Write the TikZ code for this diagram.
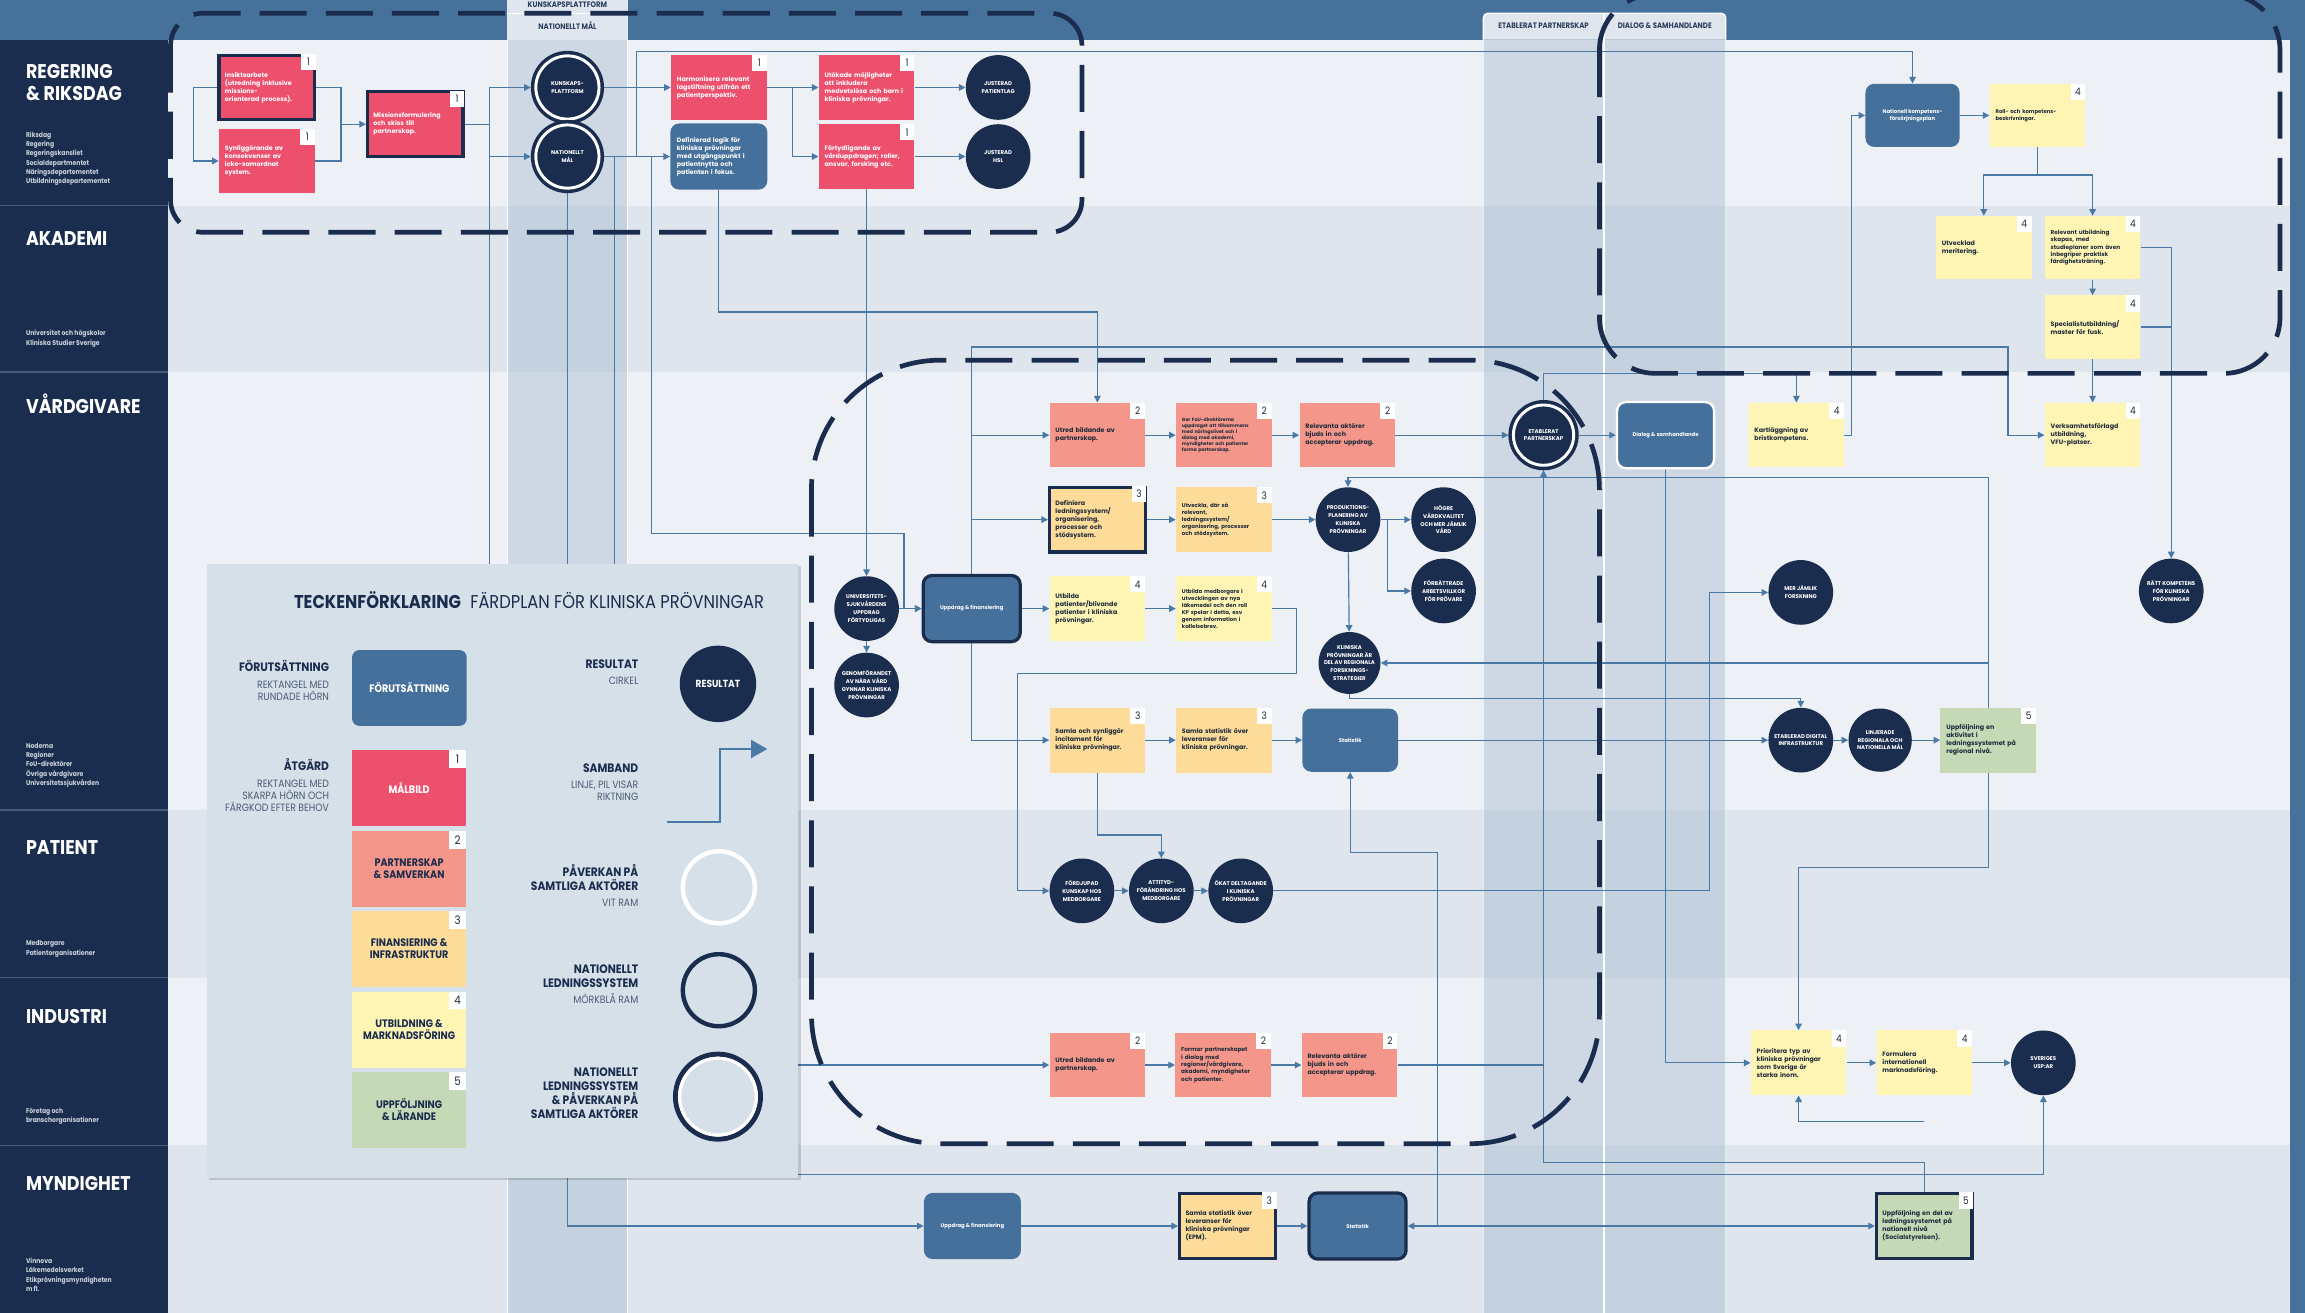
\documentclass[tikz,border=0pt]{standalone}
\usepackage{fontspec}
\setmainfont{Poppins}[FakeStretch=0.88]
\newfontfamily\ballfont{Poppins}
\usetikzlibrary{arrows.meta}

\definecolor{cHead}{HTML}{46719B}
\definecolor{cNavy}{HTML}{1B2D4E}
\definecolor{cMid}{HTML}{45709B}
\definecolor{cRed}{HTML}{EC506D}
\definecolor{cSalmon}{HTML}{F4978A}
\definecolor{cOrange}{HTML}{FDDB99}
\definecolor{cYellow}{HTML}{FEF5B5}
\definecolor{cGreen}{HTML}{C5D9B7}
\definecolor{cLink}{HTML}{4B79A5}
\definecolor{cLaneA}{HTML}{EDF1F6}
\definecolor{cLaneB}{HTML}{DEE5ED}
\definecolor{cCol}{HTML}{9FB4C9}
\definecolor{cTab}{HTML}{DFE6EE}
\definecolor{cLegend}{HTML}{D6E0E9}
\definecolor{cText}{HTML}{1F2B3B}
\definecolor{cSub}{HTML}{C8D1DC}
\definecolor{cSep}{HTML}{465A7B}
\definecolor{cTabText}{HTML}{2C3F5E}
\definecolor{cLegSub}{HTML}{4B5B73}

\pgfdeclarelayer{bg}
\pgfdeclarelayer{lines}
\pgfdeclarelayer{top}
\pgfsetlayers{bg,lines,main,top}

\begin{document}
\begin{tikzpicture}[x=1pt,y=-1pt,
    link/.style={draw=cLink,line width=.8pt},
    arr/.style={link,-{Triangle[length=4.5pt,width=4.5pt]}},
    act/.style={rectangle,minimum width=65pt,minimum height=44pt,text width=57pt,
      inner xsep=4pt,inner ysep=0pt,align=left,text=cText,
      font=\ballfont\bfseries\fontsize{4.3}{5.4}\selectfont},
    m1/.style={act,fill=cRed,text=white},
    m2/.style={act,fill=cSalmon},
    m3/.style={act,fill=cOrange},
    m4/.style={act,fill=cYellow},
    m5/.style={act,fill=cGreen},
    navyframe/.style={draw=cNavy,line width=2.2pt},
    badge/.style={fill=white,text=cText,minimum width=10pt,minimum height=11pt,
      inner sep=0pt,font=\fontsize{7}{7}\selectfont},
    num/.style={label={[badge,anchor=north east]north east:#1}},
    pre/.style={rectangle,rounded corners=6pt,fill=cMid,text=white,minimum width=66pt,
      minimum height=45pt,inner sep=2pt,align=center,font=\ballfont\bfseries\fontsize{3.6}{4.6}\selectfont},
    res/.style={circle,fill=cNavy,text=white,minimum size=44pt,inner sep=0pt,
      align=center,font=\ballfont\bfseries\fontsize{3.7}{5.3}\selectfont},
    ring/.style={res,draw=cNavy,double=white,line width=2.4pt,double distance=2pt,
      minimum size=43pt,outer sep=3.4pt},
    dashbox/.style={draw=cNavy,line width=3.2pt,dash pattern=on 32pt off 13pt},
    lanetitle/.style={anchor=base west,inner sep=0pt,text=white,
      font=\bfseries\fontsize{13.5}{15}\selectfont},
    lanesub/.style={anchor=base west,inner sep=0pt,text=cSub,align=left,
      font=\bfseries\fontsize{4.7}{6.3}\selectfont},
    tablabel/.style={inner sep=0pt,text=cTabText,font=\bfseries\fontsize{5.4}{5.4}\selectfont},
    leghead/.style={anchor=base east,inner sep=0pt,text=cNavy,align=right,
      font=\bfseries\fontsize{8.3}{9.6}\selectfont},
    legsub/.style={anchor=base east,inner sep=0pt,text=cLegSub,align=right,
      font=\fontsize{7.2}{8.1}\selectfont},
    legbox/.style={rectangle,minimum width=78pt,minimum height=51.6pt,inner sep=0pt,
      align=center,text=cNavy,font=\bfseries\fontsize{7.4}{8.1}\selectfont},
    legbadge/.style={fill=white,text=cText,minimum size=12pt,inner sep=0pt,
      font=\fontsize{8}{8}\selectfont},
    legnum/.style={label={[legbadge,anchor=north east]north east:#1}}
]
\useasboundingbox (0,0) rectangle (1568,893);

% background: header, lanes, columns
\begin{pgfonlayer}{bg}
  \fill[cHead] (0,0) rectangle (1568,27);
  \fill[cNavy] (0,27) rectangle (114,893);
  \fill[cLaneA] (114,27) rectangle (1558,140);
  \fill[cLaneB] (114,140) rectangle (1558,253);
  \fill[cLaneA] (114,253) rectangle (1558,551);
  \fill[cLaneB] (114,551) rectangle (1558,665);
  \fill[cLaneA] (114,665) rectangle (1558,779);
  \fill[cLaneB] (114,779) rectangle (1558,893);
  \fill[cHead] (1558,0) rectangle (1568,893);
  \foreach \y in {140,253,551,665,779}
    \draw[cSep,line width=.8pt] (0,\y) -- (114,\y);
  \fill[cCol,opacity=.4] (345,27) rectangle (427,893);
  \fill[cCol,opacity=.4] (1009,26) rectangle (1174,893);
  \draw[white,line width=.8pt] (345,0) -- (345,893) (427,0) -- (427,893);
  \draw[white,line width=1pt] (1091,9) -- (1091,893);
  \draw[white,opacity=.6,line width=.6pt] (1009,26) -- (1009,893) (1174,26) -- (1174,893);
  \fill[cTab] (345,0) rectangle (427,27);
  \draw[white,line width=.8pt] (345,9) -- (427,9);
  \path[fill=cTab,draw=white,line width=.8pt,rounded corners=3pt]
    (1009,27) -- (1009,9) -- (1174,9) -- (1174,27);
  \draw[white,line width=1pt] (1091,9) -- (1091,27);
\end{pgfonlayer}

\node[tablabel] (tabKun) at (386,3.5) {KUNSKAPSPLATTFORM};
\node[tablabel] (tabNat) at (386,17.5) {NATIONELLT MÅL};
\node[tablabel] (tabEtab) at (1050,17.5) {ETABLERAT PARTNERSKAP};
\node[tablabel] (tabDia) at (1132.5,17.5) {DIALOG \& SAMHANDLANDE};

% lane labels (base = last line)
\node[lanetitle] (tReg1) at (17.5,53.7) {REGERING};
\node[lanetitle] (tReg2) at (17.5,68.5) {\& RIKSDAG};
\node[lanesub] (sReg) at (17.5,125) {Riksdag\\Regering\\Regeringskansliet\\Socialdepartmentet\\Näringsdepartementet\\Utbildningsdepartementet};
\node[lanetitle] (tAka) at (17.5,167) {AKADEMI};
\node[lanesub] (sAka) at (17.5,234.8) {Universitet och högskolor\\Kliniska Studier Sverige};
\node[lanetitle] (tVard) at (17.5,281) {VÅRDGIVARE};
\node[lanesub] (sVard) at (17.5,534.2) {Noderna\\Regioner\\FoU-direktörer\\Övriga vårdgivare\\Universitetssjukvården};
\node[lanetitle] (tPat) at (17.5,581) {PATIENT};
\node[lanesub] (sPat) at (17.5,649.8) {Medborgare\\Patientorganisationer};
\node[lanetitle] (tInd) at (17.5,696) {INDUSTRI};
\node[lanesub] (sInd) at (17.5,763.8) {Företag och\\branschorganisationer};
\node[lanetitle] (tMyn) at (17.5,810) {MYNDIGHET};
\node[lanesub] (sMyn) at (17.5,878.4) {Vinnova\\Läkemedelsverket\\Etikprövningsmyndigheten\\m fl.};

% regering & riksdag
\node[m1,navyframe,num=1] (insikt) at (181.5,59.5) {Insiktsarbete\\(utredning inklusive\\missions-\\orienterad process).};
\node[m1,num=1] (synlig) at (181.5,109.5) {Synliggörande av\\konsekvenser av\\icke-samordnat\\system.};
\node[m1,navyframe,num=1] (mission) at (282.5,84.5) {Missionsformulering\\och skiss till\\partnerskap.};
\node[ring] (kunskap) at (386,59.5) {KUNSKAPS-\\PLATTFORM};
\node[ring] (natmal) at (386,106.5) {NATIONELLT\\MÅL};
\node[m1,num=1] (harmon) at (489,59.5) {Harmonisera relevant\\lagstiftning utifrån ett\\patientperspektiv.};
\node[pre,align=left,text width=57pt,inner xsep=4pt,font=\ballfont\bfseries\fontsize{4.3}{5.4}\selectfont] (logik) at (489,106.5) {Definierad logik för\\kliniska prövningar\\med utgångspunkt i\\patientnytta och\\patienten i fokus.};
\node[m1,num=1] (utokade) at (589.5,59.5) {Utökade möjligheter\\att inkludera\\medvetslösa och barn i\\kliniska prövningar.};
\node[m1,num=1] (fortyd) at (589.5,106.5) {Förtydligande av\\vårduppdragen; roller,\\ansvar, forsking etc.};
\node[res] (patlag) at (679,59.5) {JUSTERAD\\PATIENTLAG};
\node[res] (hsl) at (679,106.5) {JUSTERAD\\HSL};

% kompetens (top right)
\node[pre,minimum width=64pt,minimum height=43pt] (kompplan) at (1301,78.5) {Nationell kompetens-\\försörjningsplan};
\node[m4,num=4,font=\ballfont\bfseries\fontsize{3.6}{4.6}\selectfont,minimum height=43pt] (rollbesk) at (1386,78.5) {Roll- och kompetens-\\beskrivningar.};
\node[m4,num=4,minimum height=43pt] (merit) at (1349.5,168.5) {Utvecklad\\meritering.};
\node[m4,num=4,minimum height=43pt,font=\ballfont\bfseries\fontsize{3.9}{5}\selectfont] (relutb) at (1423.5,168.5) {Relevant utbildning\\skapas, med\\studieplaner som även\\inbegriper praktisk\\färdighetsträning.};
\node[m4,num=4,minimum height=43pt] (specutb) at (1423.5,222.5) {Specialistutbildning/\\master för fusk.};

% vårdgivare
\node[m2,num=2] (utredV) at (746.5,296) {Utred bildande av\\partnerskap.};
\node[m2,num=2,font=\ballfont\bfseries\fontsize{3.2}{4}\selectfont] (gerfou) at (832.5,296) {Ger FoU-direktörerna\\uppdraget att tillsammans\\med näringslivet och i\\dialog med akademi,\\myndigheter och patienter\\forma partnerskap.};
\node[m2,num=2] (relevV) at (916.5,296) {Relevanta aktörer\\bjuds in och\\accepterar uppdrag.};
\node[ring,minimum size=41pt] (etabl) at (1050,296) {ETABLERAT\\PARTNERSKAP};
\node[pre,draw=white,line width=1.6pt] (dialog) at (1133,296) {Dialog \& samhandlande};
\node[m4,num=4] (kartl) at (1222,296) {Kartläggning av\\bristkompetens.};
\node[m4,num=4] (vfu) at (1423.5,296) {Verksamhetsförlagd\\utbildning,\\VFU-platser.};
\node[m3,navyframe,num=3] (definiera) at (746.5,353.5) {Definiera\\ledningssystem/\\organisering,\\processer och\\stödsystem.};
\node[m3,num=3,font=\ballfont\bfseries\fontsize{3.7}{4.7}\selectfont] (utveckla) at (832.5,353.5) {Utveckla, där så\\relevant,\\ledningssystem/\\organisering, processer\\och stödsystem.};
\node[res] (prod) at (917,353.5) {PRODUKTIONS-\\PLANERING AV\\KLINISKA\\PRÖVNINGAR};
\node[res] (hogre) at (982,353.5) {HÖGRE\\VÅRDKVALITET\\OCH MER JÄMLIK\\VÅRD};
\node[res] (forbat) at (982,402) {FÖRBÄTTRADE\\ARBETSVILLKOR\\FÖR PRÖVARE};
\node[res] (univ) at (589.5,414) {UNIVERSITETS-\\SJUKVÅRDENS\\UPPDRAG\\FÖRTYDLIGAS};
\node[res] (nara) at (589.5,466) {GENOMFÖRANDET\\AV NÄRA VÅRD\\GYNNAR KLINISKA\\PRÖVNINGAR};
\node[pre,navyframe] (uppdrV) at (661,414) {Uppdrag \& finansiering};
\node[m4,num=4] (utbpat) at (746.5,414) {Utbilda\\patienter/blivande\\patienter i kliniska\\prövningar.};
\node[m4,num=4,font=\ballfont\bfseries\fontsize{3.7}{4.7}\selectfont] (utbmed) at (832.5,414) {Utbilda medborgare i\\utvecklingen av nya\\läkemedel och den roll\\KP spelar i detta, exv\\genom information i\\kallelsebrev.};
\node[res,minimum size=42pt] (klin) at (918,451) {KLINISKA\\PRÖVNINGAR ÄR\\DEL AV REGIONALA\\FORSKNINGS-\\STRATEGIER};
\node[res] (jamlik) at (1225,403) {MER JÄMLIK\\FORSKNING};
\node[res] (ratt) at (1477,402) {RÄTT KOMPETENS\\FÖR KLINISKA\\PRÖVNINGAR};
\node[m3,num=3] (samlainc) at (746.5,503.5) {Samla och synliggör\\incitament för\\kliniska prövningar.};
\node[m3,num=3] (samlastat) at (832.5,503.5) {Samla statistik över\\leveranser för\\kliniska prövningar.};
\node[pre,minimum width=65pt,minimum height=43pt] (statV) at (918.5,503.5) {Statistik};
\node[res] (digital) at (1225,503.5) {ETABLERAD DIGITAL\\INFRASTRUKTUR};
\node[res,minimum size=43pt] (linj) at (1279,503.5) {LINJERADE\\REGIONALA OCH\\NATIONELLA MÅL};
\node[m5,num=5] (uppfreg) at (1352.5,503.5) {Uppföljning en\\aktivitet i\\ledningssystemet på\\regional nivå.};

% patient
\node[res] (fordj) at (736,606) {FÖRDJUPAD\\KUNSKAP HOS\\MEDBORGARE};
\node[res] (attit) at (790,606) {ATTITYD-\\FÖRÄNDRING HOS\\MEDBORGARE};
\node[res] (okat) at (844,606) {ÖKAT DELTAGANDE\\I KLINISKA\\PRÖVNINGAR};

% industri
\node[m2,num=2] (utredI) at (746.5,724.5) {Utred bildande av\\partnerskap.};
\node[m2,num=2,font=\ballfont\bfseries\fontsize{3.9}{5}\selectfont] (formar) at (832,724.5) {Formar partnerskapet\\i dialog med\\regioner/vårdgivare,\\akademi, myndigheter\\och patienter.};
\node[m2,num=2] (relevI) at (918,724.5) {Relevanta aktörer\\bjuds in och\\accepterar uppdrag.};
\node[m4,num=4] (prior) at (1223.5,723) {Prioritera typ av\\kliniska prövningar\\som Sverige är\\starka inom.};
\node[m4,num=4] (formul) at (1309,723) {Formulera\\internationell\\marknadsföring.};
\node[res] (usp) at (1390,723) {SVERIGES\\USP:AR};

% myndighet
\node[pre] (uppdrM) at (661.5,834) {Uppdrag \& finansiering};
\node[m3,navyframe,num=3] (samlaepm) at (835,834) {Samla statistik över\\leveranser för\\kliniska prövningar\\(EPM).};
\node[pre,navyframe] (statM) at (923.5,834) {Statistik};
\node[m5,navyframe,num=5] (uppfnat) at (1309,834) {Uppföljning en del av\\ledningssystemet på\\nationell nivå\\(Socialstyrelsen).};

% junctions
\coordinate (j1) at (232,84.5);
\coordinate (j2) at (333,84.5);
\coordinate (w1) at (333,799);
\coordinate (n1) at (418,106.5);
\coordinate (n2) at (433,106.5);
\coordinate (n3) at (443,106.5);
\coordinate (k1) at (433,35);
\coordinate (t1) at (615,363);
\coordinate (j3) at (539,59.5);
\coordinate (j4) at (1386,119);
\coordinate (j5) at (944,353.5);
\coordinate (u0) at (661,236);
\coordinate (u1) at (661,296);
\coordinate (u2) at (661,353.5);
\coordinate (u3) at (1366,296);
\coordinate (v1) at (882,458);
\coordinate (v2) at (692,606);
\coordinate (s1) at (746.5,568);
\coordinate (o1) at (1163,606);
\coordinate (r0) at (1352.5,325);
\coordinate (r1) at (1352.5,451);
\coordinate (r2) at (1352.5,590);
\coordinate (e1) at (1050,254);
\coordinate (g1) at (1309,791);
\coordinate (g2) at (1309,763);
\coordinate (j6) at (978,834);
\coordinate (j7) at (978,580);

\begin{pgfonlayer}{lines}
  % regering
  \draw[arr] (insikt.west) -- ++(-16,0) |- (synlig.west);
  \draw[link] (insikt.east) -| (j1);
  \draw[link] (synlig.east) -| (j1);
  \draw[arr] (j1) -- (mission.west);
  \draw[link] (mission.east) -- (j2);
  \draw[arr] (j2) |- (kunskap.west);
  \draw[arr] (j2) |- (natmal.west);
  \draw[arr] (j2) -- (w1) -| (usp.south);
  \draw[arr] (kunskap) -- (harmon);
  \draw[arr] (natmal) -- (logik);
  \draw[arr] (n1) |- (utredI.west);
  \draw[arr] (n2) -- (k1) -| (kompplan.north);
  \draw[arr] (n3) |- (t1) |- (uppdrV.west);
  \draw[arr] (natmal.south) |- (uppdrM.west);
  \draw[arr] (harmon) -- (utokade);
  \draw[arr] (j3) |- (fortyd.west);
  \draw[arr] (utokade) -- (patlag);
  \draw[arr] (fortyd) -- (hsl);
  \draw[arr] (fortyd) -- (univ);
  \draw[arr] (logik.south) -- ++(0,83) -| (utredV.north);
  % kompetens
  \draw[arr] (kompplan) -- (rollbesk);
  \draw[link] (rollbesk.south) -- (j4);
  \draw[arr] (j4) -| (merit.north);
  \draw[arr] (j4) -| (relutb.north);
  \draw[arr] (relutb) -- (specutb);
  \draw[arr] (specutb) -- (vfu);
  \draw[arr] (relutb.east) -| (ratt.north);
  \draw[link] (specutb.east) -- (specutb.east -| ratt.north);
  \draw[arr] (kartl.east) -- ++(5,0) |- (kompplan.west);
  % vårdgivare
  \draw[arr] (uppdrV.north) -- (u0) -| (u3) -- (vfu.west);
  \draw[arr] (u1) -- (utredV.west);
  \draw[arr] (u2) -- (definiera.west);
  \draw[arr] (uppdrV.south) |- (samlainc.west);
  \draw[arr] (uppdrV) -- (utbpat);
  \draw[arr] (univ) -- (uppdrV);
  \draw[arr] (univ) -- (nara);
  \draw[arr] (utredV) -- (gerfou);
  \draw[arr] (gerfou) -- (relevV);
  \draw[arr] (relevV) -- (etabl);
  \draw[arr] (etabl) -- (dialog);
  \draw[arr] (definiera) -- (utveckla);
  \draw[arr] (utveckla) -- (prod);
  \draw[arr] (prod) -- (hogre);
  \draw[arr] (j5) |- (forbat.west);
  \draw[arr] (prod) -- (klin);
  \draw[arr] (utbpat) -- (utbmed);
  \draw[arr] (utbmed.east) -| (v1) -| (v2) -- (fordj.west);
  \draw[arr] (samlainc) -- (samlastat);
  \draw[arr] (samlastat) -- (statV);
  \draw[arr] (samlainc.south) -- (s1) -| (attit.north);
  \draw[arr] (statV) -- (digital);
  \draw[arr] (digital) -- (linj);
  \draw[arr] (linj) -- (uppfreg);
  \draw[arr] (uppfreg.north) -- (r0) -| (prod.north);
  \draw[arr] (r1) -- (klin.east);
  \draw[arr] (klin.south) -- ++(0,3) -| (digital.north);
  \draw[arr] (uppfreg.south) -- (r2) -| (prior.north);
  \draw[arr] (etabl.north) -- (e1) -| (kartl.north);
  \draw[arr] (dialog.south) |- (prior.west);
  % patient
  \draw[arr] (fordj) -- (attit);
  \draw[arr] (attit) -- (okat);
  \draw[arr] (okat.east) -- (o1) |- (jamlik.west);
  % industri
  \draw[arr] (utredI) -- (formar);
  \draw[arr] (formar) -- (relevI);
  \draw[arr] (relevI.east) -| (etabl.south);
  \draw[arr] (prior) -- (formul);
  \draw[arr] (formul) -- (usp);
  \draw[link] (uppfnat.north) -- (g1) -| (etabl.south);
  \draw[arr] (g2) -| (prior.south);
  % myndighet
  \draw[arr] (uppdrM) -- (samlaepm);
  \draw[arr] (samlaepm) -- (statM);
  \draw[arr] (j6) -- (statM.east);
  \draw[arr] (j6) -- (uppfnat.west);
  \draw[arr] (j6) -- (j7) -| (statV.south);
  % dashed groups
  \draw[dashbox,rounded corners=22pt] (116,9) rectangle (736,158);
  \draw[dashbox,rounded corners=38pt] (1088,-4) rectangle (1551,254);
  \draw[dashbox,rounded corners=88pt] (552,245) rectangle (1088,778);
\end{pgfonlayer}

% legend
\begin{pgfonlayer}{top}
  \fill[black,opacity=.15] (142.5,385) rectangle (545,803);
  \fill[cLegend] (141,383.5) rectangle (543,801);
  \node[anchor=base east,inner sep=0pt,text=cNavy,font=\fontsize{12.6}{12.6}\selectfont] (legTitle) at (520,414)
    {\textbf{TECKENFÖRKLARING}\enspace FÄRDPLAN FÖR KLINISKA PRÖVNINGAR};
  \node[leghead] (lhPre) at (224,456.8) {FÖRUTSÄTTNING};
  \node[legsub] (lsPre) at (224,476.5) {REKTANGEL MED\\RUNDADE HÖRN};
  \node[leghead] (lhAct) at (224,524) {ÅTGÄRD};
  \node[legsub] (lsAct) at (224,551.8) {REKTANGEL MED\\SKARPA HÖRN OCH\\FÄRGKOD EFTER BEHOV};
  \node[legbox,fill=cMid,rounded corners=5pt,text=white] (lbPre) at (278.5,468) {FÖRUTSÄTTNING};
  \node[legbox,fill=cRed,text=white,legnum=1] (lb1) at (278.3,536) {MÅLBILD};
  \node[legbox,fill=cSalmon,legnum=2] (lb2) at (278.3,591) {PARTNERSKAP\\\& SAMVERKAN};
  \node[legbox,fill=cOrange,legnum=3] (lb3) at (278.3,645.6) {FINANSIERING \&\\INFRASTRUKTUR};
  \node[legbox,fill=cYellow,legnum=4] (lb4) at (278.3,700.5) {UTBILDNING \&\\MARKNADSFÖRING};
  \node[legbox,fill=cGreen,legnum=5] (lb5) at (278.3,755) {UPPFÖLJNING\\\& LÄRANDE};
  \node[leghead] (lhRes) at (434.4,455) {RESULTAT};
  \node[legsub] (lsRes) at (434.4,465.7) {CIRKEL};
  \node[leghead] (lhSam) at (434.4,525.4) {SAMBAND};
  \node[legsub] (lsSam) at (434.4,544.5) {LINJE, PIL VISAR\\RIKTNING};
  \node[leghead] (lhPav) at (434.4,605.6) {PÅVERKAN PÅ\\SAMTLIGA AKTÖRER};
  \node[legsub] (lsPav) at (434.4,616.8) {VIT RAM};
  \node[leghead] (lhNat) at (434.4,671.6) {NATIONELLT\\LEDNINGSSYSTEM};
  \node[legsub] (lsNat) at (434.4,682.7) {MÖRKBLÅ RAM};
  \node[leghead] (lhBoth) at (434.4,760.8) {NATIONELLT\\LEDNINGSSYSTEM\\\& PÅVERKAN PÅ\\SAMTLIGA AKTÖRER};
  \node[circle,fill=cNavy,minimum size=52pt,inner sep=0pt,text=white,
    font=\bfseries\fontsize{7}{7}\selectfont] (lcRes) at (488.4,465.2) {RESULTAT};
  \coordinate (lArrA) at (454,559.3);
  \coordinate (lArrB) at (490,509.5);
  \coordinate (lArrC) at (522,509.5);
  \draw[cLink,line width=1.6pt,-{Triangle[length=11pt,width=12pt]}] (lArrA) -| (lArrB) -- (lArrC);
  \node[circle,draw=white,line width=3pt,minimum size=49pt] (lcWhite) at (489,603.6) {};
  \node[circle,draw=cNavy,line width=3pt,minimum size=49pt] (lcNavy) at (489,673.6) {};
  \node[circle,draw=cNavy,line width=3.4pt,minimum size=57.8pt] (lcBoth) at (488.4,746) {};
  \draw[white,line width=2.2pt] (lcBoth.center) circle[radius=26.1pt];
\end{pgfonlayer}
\end{tikzpicture}
\end{document}
